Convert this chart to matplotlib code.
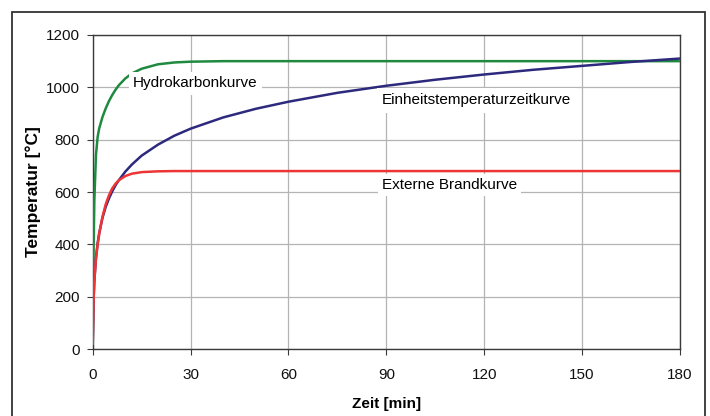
import matplotlib
matplotlib.use("Agg")
import matplotlib.pyplot as plt
from matplotlib.patches import Rectangle

plt.rcParams['font.family'] = ['Liberation Sans', 'DejaVu Sans']

# time points [min]
t = [0, 0.25, 0.5, 1, 1.5, 2, 3, 4, 5, 6, 7, 8, 10, 12, 15, 20, 25, 30,
     40, 50, 60, 75, 90, 105, 120, 135, 150, 165, 180]

# Einheitstemperaturzeitkurve
etk = [20, 185, 261, 349, 404, 444, 502, 544, 576, 603, 626, 645, 678, 705,
       739, 781, 815, 842, 885, 918, 945, 979, 1006, 1029, 1049, 1067, 1082,
       1097, 1110]

# Hydrokarbonkurve
hc = [20, 373, 569, 743, 810, 844, 887, 920, 948, 971, 991, 1008, 1034, 1053,
      1071, 1088, 1095, 1098, 1100, 1100, 1100, 1100, 1100, 1100, 1100, 1100,
      1100, 1100, 1100]

# Externe Brandkurve
ext = [20, 182, 263, 346, 399, 441, 506, 554, 588, 614, 632, 645, 661, 670,
       676, 679, 680, 680, 680, 680, 680, 680, 680, 680, 680, 680, 680, 680,
       680]

xticks = [0, 30, 60, 90, 120, 150, 180]
yticks = [0, 200, 400, 600, 800, 1000, 1200]

fig = plt.figure(figsize=(7.10, 4.16), dpi=100)
ax = fig.add_axes([0.1306, 0.161, 0.8271, 0.7549])

# outer frame
fig.patches.append(Rectangle((12/710, -0.05), (705-12)/710, (416-12)/416 + 0.05,
                             transform=fig.transFigure, fill=False,
                             edgecolor='#333333', linewidth=1.3))

ax.plot(t, hc, color='#1f8a3f', linewidth=1.8, zorder=3)
ax.plot(t, etk, color='#2d2a7e', linewidth=1.8, zorder=3)
ax.plot(t, ext, color='#ee3535', linewidth=1.8, zorder=4)

ax.set_xlim(0, 180)
ax.set_ylim(0, 1200)
ax.set_xticks(xticks)
ax.set_yticks(yticks)
ax.grid(True, color='#b4b4b4', linewidth=0.9)
ax.set_axisbelow(True)
for s in ax.spines.values():
    s.set_color('#3a3a3a')
    s.set_linewidth(1.0)
ax.tick_params(axis='both', labelsize=11, length=4, color='#3a3a3a',
               labelcolor='#111111')
ax.tick_params(axis='x', pad=9.5)
ax.tick_params(axis='y', pad=5)

ax.set_xlabel('Zeit [min]', fontsize=11, fontweight='bold', labelpad=11)
ax.set_ylabel('Temperatur [°C]', fontsize=12.5, fontweight='bold', labelpad=4)

box = dict(facecolor='white', edgecolor='none', pad=3)
ax.text(12.3, 1015, 'Hydrokarbonkurve', fontsize=11, va='center', ha='left',
        bbox=box, zorder=5)
ax.text(88.7, 951, 'Einheitstemperaturzeitkurve', fontsize=11, va='center',
        ha='left', bbox=dict(facecolor='white', edgecolor='none', pad=4), zorder=5)
ax.text(88.7, 627, 'Externe Brandkurve', fontsize=11, va='center', ha='left',
        bbox=box, zorder=5)

fig.savefig('out.png', dpi=100)
